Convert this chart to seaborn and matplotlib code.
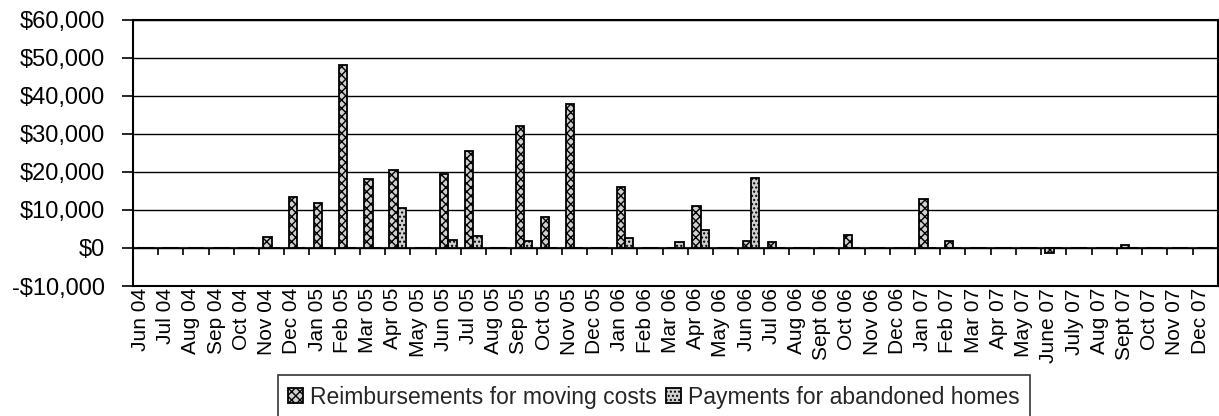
import pandas as pd
import matplotlib
matplotlib.use("Agg")
import matplotlib.pyplot as plt
import matplotlib.ticker as mticker
import matplotlib.transforms as mtrans
import seaborn as sns

months = ["Jun 04", "Jul 04", "Aug 04", "Sep 04", "Oct 04", "Nov 04", "Dec 04",
          "Jan 05", "Feb 05", "Mar 05", "Apr 05", "May 05", "Jun 05", "Jul 05",
          "Aug 05", "Sep 05", "Oct 05", "Nov 05", "Dec 05",
          "Jan 06", "Feb 06", "Mar 06", "Apr 06", "May 06", "Jun 06", "Jul 06",
          "Aug 06", "Sept 06", "Oct 06", "Nov 06", "Dec 06",
          "Jan 07", "Feb 07", "Mar 07", "Apr 07", "May 07", "June 07", "July 07",
          "Aug 07", "Sept 07", "Oct 07", "Nov 07", "Dec 07"]

reimbursements = [0, 0, 0, 0, 0, 2800, 13500,
                  11900, 48000, 18100, 20400, 0, 19500, 25500,
                  0, 32100, 8200, 37900, 0,
                  16100, 0, 0, 11100, 0, 1800, 1500,
                  0, 0, 3400, 0, 0,
                  13000, 1900, 0, 0, 0, -1300, 0,
                  0, 700, 0, 0, 0]

abandoned = [0, 0, 0, 0, 0, 0, 0,
             0, 0, 0, 10600, 0, 2200, 3200,
             0, 1700, 0, 0, 0,
             2700, 0, 1600, 4600, 0, 18300, 0,
             0, 0, 0, 0, 0,
             0, 0, 0, 0, 0, 0, 0,
             0, 0, 0, 0, 0]

series_names = ["Reimbursements for moving costs", "Payments for abandoned homes"]

df = pd.DataFrame({"month": months * 2,
                   "value": reimbursements + abandoned,
                   "series": [series_names[0]] * len(months) + [series_names[1]] * len(months)})

sns.set_style("white")
plt.rcParams["font.family"] = ["Liberation Sans", "DejaVu Sans"]

fig = plt.figure(figsize=(12.19, 4.16), dpi=100)
ax = fig.add_axes([0.109, 0.3125, 0.89, 0.64])

sns.barplot(data=df, x="month", y="value", hue="series", order=months,
            hue_order=series_names, palette=["#d0d0d0", "#d0d0d0"],
            width=0.66, edgecolor="black", linewidth=1.3, ax=ax, errorbar=None)

hatches = ["xxxx", "...."]
n = len(months)
for i, p in enumerate(ax.patches[:2 * n]):
    p.set_hatch(hatches[i // n])

ax.set_ylim(-10000, 60000)
ax.set_xlim(-0.5, n - 0.5)
ax.set_yticks(range(-10000, 60001, 10000))
ax.yaxis.set_major_formatter(mticker.FuncFormatter(
    lambda v, _: ("-$" if v < 0 else "$") + f"{abs(int(v)):,}"))
ax.yaxis.grid(True, color="black", linewidth=1)
ax.set_axisbelow(True)
ax.set_xlabel("")
ax.set_ylabel("")
for s in ax.spines.values():
    s.set_color("black")
    s.set_linewidth(1.5)

ax.tick_params(axis="y", left=True, length=8, width=1.2, labelsize=17, pad=12, colors="black")
ax.tick_params(axis="x", bottom=False, labelsize=15, pad=-2, colors="black")
ax.set_xticks(range(n))
ax.set_xticklabels(months, rotation=90)
shift = mtrans.ScaledTranslation(-0.05, 0, fig.dpi_scale_trans)
for lab in ax.get_xticklabels():
    lab.set_transform(lab.get_transform() + shift)

# category axis crossing at $0 with tick marks between categories
zero_axis = ax.secondary_xaxis(1 / 7)
zero_axis.set_xticks([i + 0.5 for i in range(n - 1)])
zero_axis.tick_params(axis="x", direction="out", length=5, width=1.2,
                      labelbottom=False, colors="black")
zero_axis.spines["bottom"].set_linewidth(1.5)

handles, labels = ax.get_legend_handles_labels()
for h, hatch in zip(handles, hatches):
    h.set_hatch(hatch)
    h.set_edgecolor("black")
ax.get_legend().remove()
leg = fig.legend(handles, labels, loc="center", bbox_to_anchor=(0.5365, 0.045), ncol=2,
                 frameon=True, fancybox=False, edgecolor="black", fontsize=16.5,
                 handlelength=0.65, handleheight=0.65, handletextpad=0.3,
                 columnspacing=0.4, borderpad=0.45)
leg.get_frame().set_linewidth(1.2)

fig.savefig("out.png", dpi=100)
